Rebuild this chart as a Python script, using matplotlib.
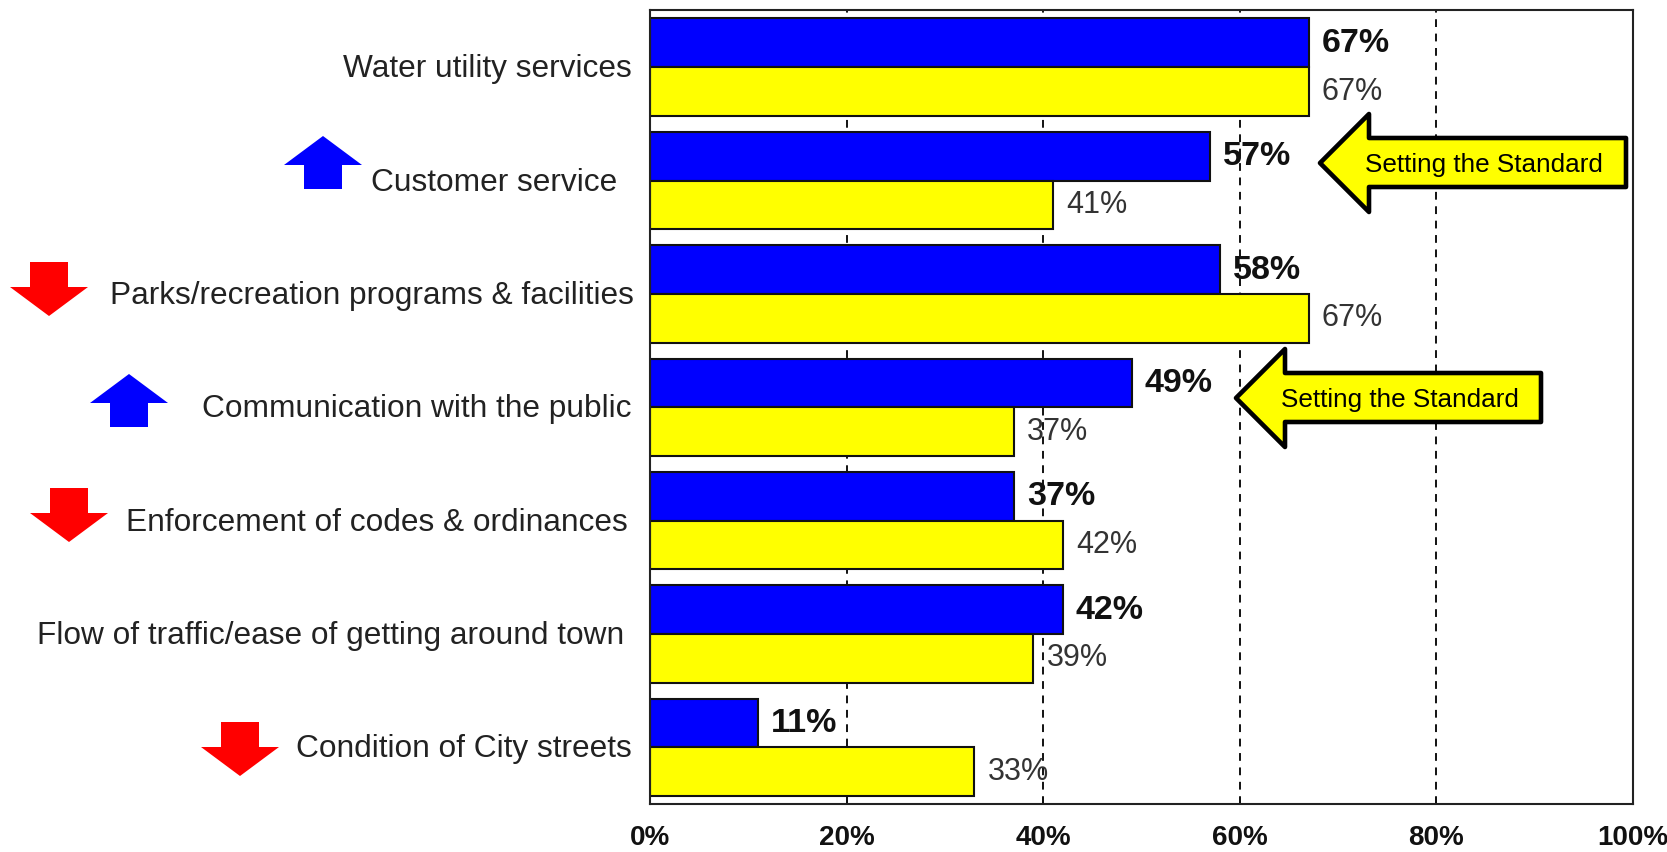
import matplotlib
matplotlib.use("Agg")
import matplotlib.pyplot as plt
from matplotlib.patches import Polygon

plt.rcParams["font.family"] = ["Liberation Sans", "DejaVu Sans"]

# Survey results
categories = [
    "Water utility services",
    "Customer service",
    "Parks/recreation programs & facilities",
    "Communication with the public",
    "Enforcement of codes & ordinances",
    "Flow of traffic/ease of getting around town",
    "Condition of City streets",
]
current_values = [67, 57, 58, 49, 37, 42, 11]
previous_values = [67, 41, 67, 37, 42, 39, 33]
x_ticks = [0, 20, 40, 60, 80, 100]
x_tick_labels = ["0%", "20%", "40%", "60%", "80%", "100%"]
label_right_px = [632, 617, 634, 632, 628, 624, 632]
trend_markers = [
    (323, 136, "up"),
    (49, 262, "down"),
    (129, 374, "up"),
    (69, 488, "down"),
    (240, 722, "down"),
]
callouts = [
    (1320, 163, 1626),
    (1236, 398, 1541),
]

W, H = 1667, 852
fig = plt.figure(figsize=(W / 100, H / 100), dpi=100, facecolor="white")
ax_left, ax_right, ax_top, ax_bottom = 650, 1633, 10.5, 804
ax = fig.add_axes([ax_left / W, 1 - ax_bottom / H,
                   (ax_right - ax_left) / W, (ax_bottom - ax_top) / H])

# Two bars per row, hanging either side of the row centre
bar_h = 0.43
centers = [i + 0.5 for i in range(len(categories))]
ax.barh([c - bar_h / 2 for c in centers], current_values, height=bar_h,
        color="#0000ff", edgecolor="#111111", linewidth=1.5, zorder=3)
ax.barh([c + bar_h / 2 for c in centers], previous_values, height=bar_h,
        color="#ffff00", edgecolor="#111111", linewidth=1.5, zorder=3)

ax.set_xlim(0, 100)
ax.set_ylim(len(categories), 0)
ax.set_yticks([])
ax.set_xticks(x_ticks)
ax.set_xticklabels(x_tick_labels, fontsize=20, fontweight="bold", color="#111111")
ax.tick_params(axis="x", direction="in", length=5, width=1.3, pad=15.2, color="#111111")
for v in x_ticks[1:-1]:
    ax.axvline(v, color="#111111", linewidth=1.4, dashes=(4, 3.4), zorder=1)
for spine in ax.spines.values():
    spine.set_linewidth(1.5)
    spine.set_color("#222222")
    spine.set_zorder(4)

# Value labels at the bar ends
for c, cur, prev in zip(centers, current_values, previous_values):
    ax.annotate(f"{cur}%", (cur, c - bar_h / 2), xytext=(9.4, -0.5), textcoords="offset points",
                va="center", ha="left", fontsize=24.5, fontweight="bold",
                color="#111111", zorder=6)
    ax.annotate(f"{prev}%", (prev, c + bar_h / 2), xytext=(9.4, 0), textcoords="offset points",
                va="center", ha="left", fontsize=22, color="#333333", zorder=6)

# Overlay in pixel space for the row labels, trend markers and callouts
overlay = fig.add_axes([0, 0, 1, 1], facecolor="none")
overlay.set_xlim(0, W)
overlay.set_ylim(H, 0)
overlay.axis("off")

for c, name, right in zip(centers, categories, label_right_px):
    y_px = ax_top + c * (ax_bottom - ax_top) / len(categories)
    overlay.text(right, y_px + 2, name, ha="right", va="center", fontsize=22.8, color="#222222")


def trend_arrow(cx, top, direction):
    # 53 px tall block arrow with a 78 px head and a 38 px shaft
    if direction == "up":
        pts = [(cx, top), (cx + 39, top + 29), (cx + 19, top + 29), (cx + 19, top + 53),
               (cx - 19, top + 53), (cx - 19, top + 29), (cx - 39, top + 29)]
        color = "#0000ff"
    else:
        pts = [(cx - 19, top), (cx + 19, top), (cx + 19, top + 25), (cx + 39, top + 25),
               (cx, top + 54), (cx - 39, top + 25), (cx - 19, top + 25)]
        color = "#ff0000"
    overlay.add_patch(Polygon(pts, closed=True, facecolor=color, edgecolor="none"))


for cx, top, direction in trend_markers:
    trend_arrow(cx, top, direction)

for tip_x, mid_y, right in callouts:
    back = tip_x + 49
    pts = [(tip_x, mid_y), (back, mid_y - 49), (back, mid_y - 25), (right, mid_y - 25),
           (right, mid_y + 24), (back, mid_y + 24), (back, mid_y + 49)]
    overlay.add_patch(Polygon(pts, closed=True, facecolor="#ffff00", edgecolor="#000000",
                              linewidth=3.3, joinstyle="round"))
    overlay.text((back - 4 + right - 23) / 2, mid_y + 2, "Setting the Standard", ha="center",
                 va="center", fontsize=18.8, color="#000000")

fig.savefig("out.png", dpi=100)
